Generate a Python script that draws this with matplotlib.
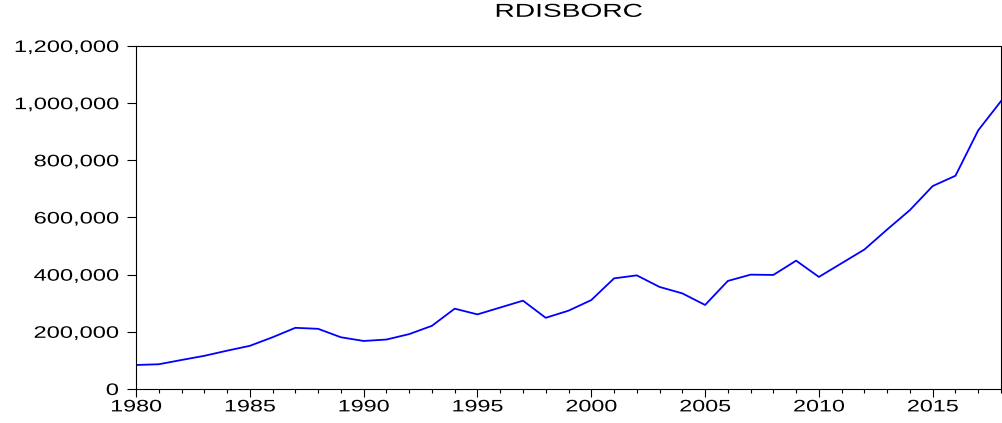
import matplotlib
matplotlib.use('Agg')
import matplotlib.pyplot as plt
from matplotlib.ticker import FuncFormatter, MultipleLocator
from matplotlib.patheffects import AbstractPathEffect
from matplotlib.transforms import Affine2D

plt.rcParams['font.family'] = ['Liberation Sans', 'DejaVu Sans']

# Annual values
years = list(range(1980, 2019))
rdisborc = [84000, 86500, 101500, 116000, 134000, 151000, 181000, 214000, 210500, 181000,
            168000, 173000, 192000, 221000, 281000, 261000, 285000, 309000, 249000, 274000,
            311000, 387000, 397500, 357000, 334500, 294000, 378000, 400000, 399000, 449000,
            392000, 440000, 488000, 558000, 626000, 710000, 746000, 905000, 1007000]


# The reference uses a wide, stretched Arial; widen the glyphs horizontally
class Stretch(AbstractPathEffect):
    def __init__(self, sx, ha='center'):
        super().__init__()
        self.sx = sx
        self.ha = ha

    def draw_path(self, renderer, gc, tpath, affine, rgbFace=None):
        v = tpath.vertices
        if len(v) == 0:
            return
        x0, x1 = v[:, 0].min(), v[:, 0].max()
        c = {'center': (x0 + x1) / 2, 'right': x1, 'left': x0}[self.ha]
        t = Affine2D().translate(-c, 0).scale(self.sx, 1).translate(c, 0)
        renderer.draw_path(gc, tpath, t + affine, rgbFace)


fig = plt.figure(figsize=(10.03, 4.23), dpi=100)
ax = fig.add_axes([0.1356, 0.0804, 0.8624, 0.8109])

ax.plot(years, rdisborc, color='#0000ff', linewidth=1.3)

ax.set_xlim(1980, 2018)
ax.set_ylim(0, 1200000)
ax.xaxis.set_major_locator(MultipleLocator(5))
ax.xaxis.set_minor_locator(MultipleLocator(1))
ax.yaxis.set_major_locator(MultipleLocator(200000))
ax.yaxis.set_major_formatter(FuncFormatter(lambda v, p: f'{int(v):,}'))

ax.tick_params(axis='x', which='major', direction='out', length=5.5, width=0.8, labelsize=12, pad=2)
ax.tick_params(axis='x', which='minor', direction='out', length=3, width=0.8)
ax.tick_params(axis='y', which='major', direction='out', length=6.5, width=0.8, labelsize=12, pad=6)
for s in ax.spines.values():
    s.set_linewidth(0.8)

title = ax.set_title('RDISBORC', fontsize=13.5, pad=21)
title.set_path_effects([Stretch(1.5, 'center')])

fig.canvas.draw()
for lab in ax.get_xticklabels():
    lab.set_path_effects([Stretch(1.4, 'center')])
for lab in ax.get_yticklabels():
    lab.set_path_effects([Stretch(1.42, 'right')])

fig.savefig('out.png', dpi=100)
